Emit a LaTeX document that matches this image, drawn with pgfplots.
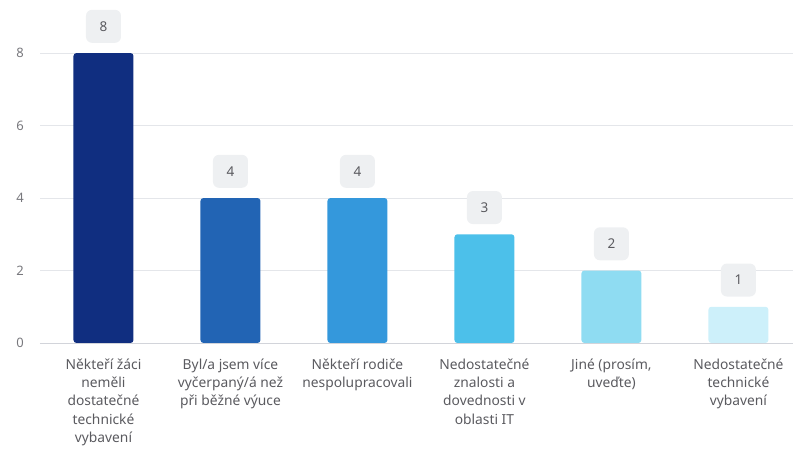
\documentclass[border=0pt]{standalone}
\usepackage{fontspec}
\setmainfont{Noto Sans}
\usepackage{pgfplots}
\pgfplotsset{compat=1.18}
\definecolor{c1}{RGB}{16,46,128}
\definecolor{c2}{RGB}{34,100,180}
\definecolor{c3}{RGB}{52,152,220}
\definecolor{c4}{RGB}{76,192,234}
\definecolor{c5}{RGB}{143,220,242}
\definecolor{c6}{RGB}{205,240,250}
\definecolor{gridc}{RGB}{228,230,234}
\definecolor{axc}{RGB}{210,212,218}
\definecolor{boxc}{RGB}{238,240,242}
\definecolor{txtc}{RGB}{90,90,95}
\definecolor{tickc}{RGB}{120,120,125}
\begin{document}
\begin{tikzpicture}
\begin{axis}[
  scale only axis, width=753pt, height=290pt,
  xmin=-0.5, xmax=5.43, ymin=0, ymax=8,
  ybar, bar width=60pt, bar shift=0pt,
  axis line style={draw=none},
  ytick={0,2,4,6,8}, ymajorgrids, grid style={gridc, line width=0.8pt},
  major tick length=0pt,
  xtick={0,1,2,3,4,5},
  xticklabels={{Někteří žáci\\neměli\\dostatečné\\technické\\vybavení},
    {Byl/a jsem více\\vyčerpaný/á než\\při běžné výuce},
    {Někteří rodiče\\nespolupracovali},
    {Nedostatečné\\znalosti a\\dovednosti v\\oblasti IT},
    {Jiné (prosím,\\uveďte)},
    {Nedostatečné\\technické\\vybavení}},
  xticklabel style={align=center, anchor=north, yshift=-12pt, text=txtc,
    font=\fontsize{13.8}{18.3}\selectfont},
  yticklabel style={anchor=center, xshift=-20pt, text=tickc,
    font=\fontsize{13}{15}\selectfont},
  /pgf/number format/assume math mode=true,
  clip=false,
  nodes near coords,
  every node near coord/.append style={fill=boxc, rounded corners=6pt,
    minimum width=35pt, minimum height=33pt, text=txtc, anchor=south,
    yshift=10pt, font=\fontsize{13.5}{15}\selectfont\bfseries},
  every axis plot/.append style={draw=none, rounded corners=3pt},
]
\addplot[fill=c1] coordinates {(0,8)};
\addplot[fill=c2] coordinates {(1,4)};
\addplot[fill=c3] coordinates {(2,4)};
\addplot[fill=c4] coordinates {(3,3)};
\addplot[fill=c5] coordinates {(4,2)};
\addplot[fill=c6] coordinates {(5,1)};
\draw[axc, line width=1pt] (rel axis cs:0,0) -- (rel axis cs:1,0);
\coordinate (O) at (rel axis cs:0,0);
\end{axis}
\pgfresetboundingbox
\path[use as bounding box] ([shift={(-40pt,-107pt)}]O) rectangle ([shift={(753pt,343pt)}]O);
\end{tikzpicture}
\end{document}
